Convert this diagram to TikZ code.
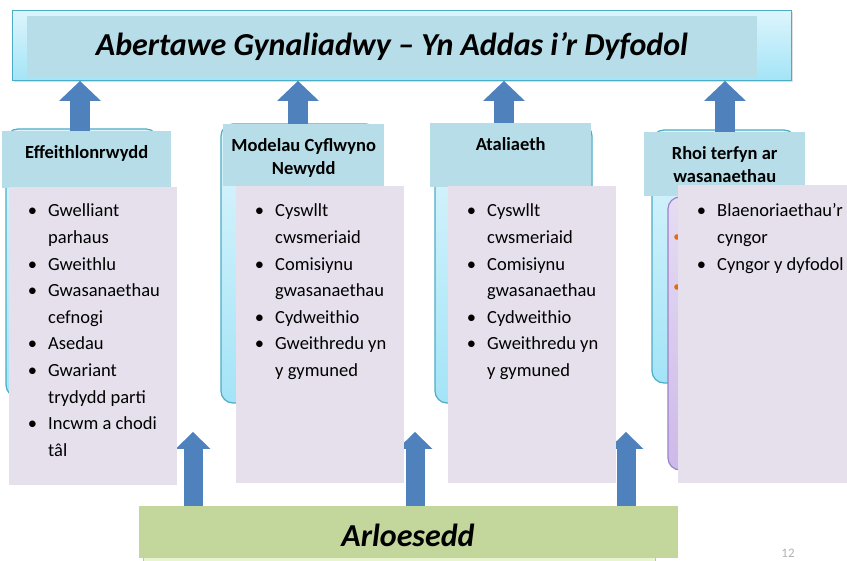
\documentclass[tikz,border=0pt]{standalone}
\usepackage{fontspec}
\setmainfont{Carlito}
\usetikzlibrary{arrows.meta,shadows}

\definecolor{kopfblau}{HTML}{B7DDE8}
\definecolor{lila}{HTML}{E5E0EC}
\definecolor{pfeilblau}{HTML}{4F81BD}
\definecolor{cyanhell}{HTML}{DDF5FC}
\definecolor{cyandunkel}{HTML}{A3E4F7}
\definecolor{cyanrand}{HTML}{4BACC6}
\definecolor{gruen}{HTML}{C3D69B}
\definecolor{gruenhell}{HTML}{E8F5CF}
\definecolor{gruenrand}{HTML}{B5CF86}
\definecolor{violetthell}{HTML}{E6DCF3}
\definecolor{violettdunkel}{HTML}{CDB9E8}
\definecolor{violettrand}{HTML}{9B82C9}
\definecolor{punktorange}{HTML}{E46C0A}

% Aufzaehlung in den lila Kaesten
\newenvironment{punktliste}{\begin{minipage}[t]{200pt}\begin{list}{\textbullet}{%
  \setlength{\leftmargin}{16pt}\setlength{\labelwidth}{14pt}\setlength{\labelsep}{11pt}%
  \setlength{\itemsep}{0pt}\setlength{\parsep}{0pt}\setlength{\topsep}{0pt}\setlength{\partopsep}{0pt}}}%
  {\end{list}\end{minipage}}

\begin{document}
\begin{tikzpicture}[x=1pt, y=-1pt,
    kopf/.style={fill=kopfblau, inner sep=0pt, anchor=north west},
    kopftext/.style={font=\bfseries\fontsize{18.5}{23}\selectfont, align=center, anchor=base, inner sep=0pt},
    hinter/.style={draw=cyanrand, line width=1.2pt, rounded corners=12pt, top color=cyanhell, bottom color=cyandunkel},
    liste/.style={fill=lila, inner sep=0pt, anchor=north west},
    punkte/.style={anchor=base west, inner sep=0pt, font=\fontsize{18.5}{26.6}\selectfont},
    grosstext/.style={font=\bfseries\itshape\fontsize{32}{37}\selectfont, anchor=base, inner sep=0pt},
    blockpfeil/.style={pfeilblau, line width=20pt, -{Triangle[width=42pt, length=20pt, line width=0pt]}},
    blockpfeilklein/.style={pfeilblau, line width=19pt, -{Triangle[width=35pt, length=17pt, line width=0pt]}}]

    % Rahmen des Bildes
    \useasboundingbox (0,0) rectangle (847,561);

    % Oberes Banner
    \node[draw=cyanrand, line width=1pt, top color=cyanhell, bottom color=cyandunkel, anchor=north west,
          minimum width=779pt, minimum height=70pt, inner sep=0pt,
          drop shadow={opacity=0.25, shadow xshift=1pt, shadow yshift=-2pt}] (banner) at (12,10) {};
    \node[kopf, minimum width=730pt, minimum height=61pt] (bannerinnen) at (27,16) {};
    \node[grosstext] (titel) at (392,56) {Abertawe Gynaliadwy – Yn Addas i’r Dyfodol};

    % Hintergruende der Spalten
    \draw[hinter] (6,129) rectangle (158,397);
    \draw[hinter] (221,124) rectangle (378,403);
    \draw[hinter] (435,124) rectangle (592,403);
    \draw[hinter] (652,130) rectangle (796,383);

    % verdeckter Kasten in Spalte 4
    \draw[violettrand, line width=1.2pt, rounded corners=12pt, top color=violetthell, bottom color=violettdunkel] (668,197) rectangle (820,470);
    \fill[punktorange] (677,237) circle (2.8);
    \fill[punktorange] (677,287) circle (2.8);

    % Kopfzeilen der Spalten
    \node[kopf, minimum width=169pt, minimum height=57pt] (kopf1) at (2,131) {};
    \node[kopf, minimum width=161pt, minimum height=62pt] (kopf2) at (223,124) {};
    \node[kopf, minimum width=161pt, minimum height=64pt] (kopf3) at (430,123) {};
    \node[kopf, minimum width=161pt, minimum height=64pt] (kopf4) at (644,132) {};

    \node[kopftext] (titel1) at ([yshift=-28pt]kopf1.north) {Effeithlonrwydd};
    \node[kopftext] (titel2) at ([yshift=-51pt]kopf2.north) {Modelau Cyflwyno\\Newydd};
    \node[kopftext] (titel3) at ([yshift=-28pt]kopf3.north) {Ataliaeth};
    \node[kopftext] (titel4) at ([yshift=-51pt]kopf4.north) {Rhoi terfyn ar\\wasanaethau};

    % Pfeile nach oben zum Banner
    \coordinate (o1) at (80,0);
    \coordinate (o2) at (298,0);
    \coordinate (o3) at (504,0);
    \coordinate (o4) at (725,0);
    \draw[blockpfeil] (kopf1.north -| o1) -- (banner.south -| o1);
    \draw[blockpfeil] (kopf2.north -| o2) -- (banner.south -| o2);
    \draw[blockpfeil] (kopf3.north -| o3) -- (banner.south -| o3);
    \draw[blockpfeil] (kopf4.north -| o4) -- (banner.south -| o4);

    % Unterer Kasten
    \draw[gruenrand, fill=gruenhell, line width=0.6pt] (143,530) rectangle (655,561);
    \node[fill=gruen, inner sep=0pt, anchor=north west, minimum width=539pt, minimum height=52pt] (arloesedd) at (139,506) {};
    \node[grosstext] (arloesedd text) at (408,547) {Arloesedd};

    % Pfeile von unten
    \coordinate (u1) at (193,432);
    \coordinate (u2) at (415,432);
    \coordinate (u3) at (626,432);
    \draw[blockpfeilklein] (arloesedd.north -| u1) -- (u1);
    \draw[blockpfeilklein] (arloesedd.north -| u2) -- (u2);
    \draw[blockpfeilklein] (arloesedd.north -| u3) -- (u3);

    % Lila Kaesten mit Stichpunkten
    \node[liste, minimum width=168pt, minimum height=298pt] (liste1) at (9,187) {};
    \node[liste, minimum width=168pt, minimum height=297pt] (liste2) at (236,186) {};
    \node[liste, minimum width=168pt, minimum height=297pt] (liste3) at (448,186) {};
    \node[liste, minimum width=175pt, minimum height=298pt] (liste4) at (678,185) {};

    \node[punkte] (punkte1) at (32,217) {\begin{punktliste}
        \item Gwelliant\newline parhaus
        \item Gweithlu
        \item Gwasanaethau\newline cefnogi
        \item Asedau
        \item Gwariant\newline trydydd parti
        \item Incwm a chodi\newline tâl
    \end{punktliste}};
    \node[punkte] (punkte2) at (259,217) {\begin{punktliste}
        \item Cyswllt\newline cwsmeriaid
        \item Comisiynu\newline gwasanaethau
        \item Cydweithio
        \item Gweithredu yn\newline y gymuned
    \end{punktliste}};
    \node[punkte] (punkte3) at (471,217) {\begin{punktliste}
        \item Cyswllt\newline cwsmeriaid
        \item Comisiynu\newline gwasanaethau
        \item Cydweithio
        \item Gweithredu yn\newline y gymuned
    \end{punktliste}};
    \node[punkte] (punkte4) at (701,217) {\begin{punktliste}
        \item Blaenoriaethau’r\newline cyngor
        \item Cyngor y dyfodol
    \end{punktliste}};

    % Seitenzahl
    \node[text=gray!60, font=\fontsize{13}{15}\selectfont] (seite) at (788,553) {12};
\end{tikzpicture}
\end{document}
